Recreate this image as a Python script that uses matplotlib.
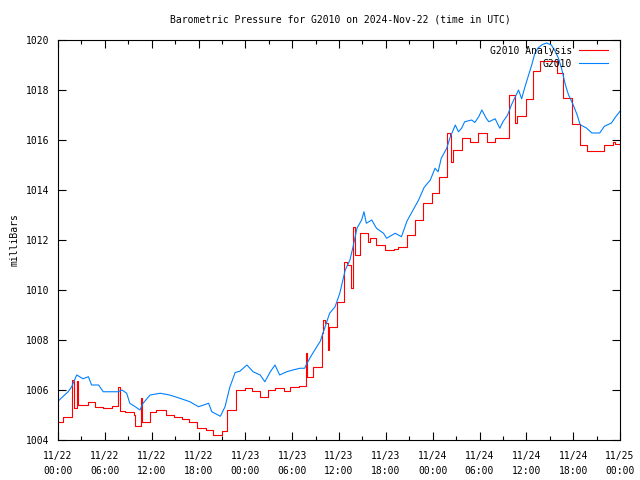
import numpy as np
import matplotlib
matplotlib.use('Agg')
import matplotlib.pyplot as plt
from matplotlib.ticker import MultipleLocator

# hours since 2024-11-22 00:00 UTC, pressure in mb
analysis_hours = [0.0, 0.68, 1.75, 2.1, 2.4, 2.6, 3.9, 4.7, 5.8, 6.9, 7.7, 7.95, 8.6, 9.8, 9.85,
                  10.6, 10.8, 11.8, 12.6, 13.8, 14.9, 15.9, 16.8, 17.8, 18.9, 19.9, 21.0, 21.7,
                  22.8, 24.0, 24.8, 25.9, 26.9, 27.8, 28.9, 29.7, 30.9, 31.8, 31.95, 32.7, 33.8,
                  34.0, 34.2, 34.6, 34.7, 35.7, 36.7, 37.0, 37.5, 37.75, 38.05, 38.7, 39.75, 40.0,
                  40.8, 41.9, 43.0, 43.6, 44.7, 45.7, 46.7, 47.9, 48.8, 49.8, 50.2, 50.4, 50.6,
                  51.8, 52.8, 53.8, 54.9, 56.0, 57.8, 58.6, 58.75, 59.9, 60.8, 61.8, 63.9, 64.7,
                  65.8, 66.9, 67.8, 70.0, 71.1, 71.4, 72.0]
analysis_mb = [1004.73, 1004.93, 1006.40, 1005.27, 1006.37, 1005.40, 1005.53, 1005.33, 1005.27,
               1005.35, 1006.13, 1005.17, 1005.13, 1005.00, 1004.56, 1005.67, 1004.73, 1005.13,
               1005.20, 1005.00, 1004.93, 1004.83, 1004.73, 1004.47, 1004.40, 1004.20, 1004.36,
               1005.20, 1006.00, 1006.09, 1005.97, 1005.71, 1006.00, 1006.07, 1005.97, 1006.11,
               1006.16, 1007.47, 1006.53, 1006.93, 1008.27, 1008.80, 1008.67, 1007.60, 1008.53,
               1009.53, 1011.13, 1011.00, 1010.07, 1012.53, 1011.40, 1012.27, 1011.93, 1012.07,
               1011.80, 1011.60, 1011.63, 1011.73, 1012.20, 1012.80, 1013.50, 1013.89, 1014.51,
               1016.27, 1016.20, 1015.13, 1015.60, 1016.07, 1015.93, 1016.27, 1015.93, 1016.07,
               1017.82, 1016.68, 1016.95, 1017.63, 1018.75, 1019.17, 1018.68, 1017.68, 1016.64,
               1015.81, 1015.55, 1015.79, 1015.92, 1015.84, 1015.84]

obs_hours = [0.0, 0.5, 1.3, 1.75, 2.4, 3.2, 3.9, 4.3, 5.2, 5.8, 7.7, 8.2, 8.8, 9.2, 9.9, 10.5,
             10.9, 11.8, 13.1, 14.3, 15.6, 16.9, 18.0, 19.3, 19.7, 20.8, 21.4, 22.0, 22.7, 23.3,
             24.2, 25.0, 25.9, 26.5, 27.2, 27.8, 28.4, 29.3, 30.1, 31.0, 31.6, 31.9, 32.5, 32.9,
             33.6, 34.8, 35.5, 36.1, 36.8, 37.4, 37.8, 38.3, 38.9, 39.2, 39.5, 40.2, 40.8, 41.7,
             42.1, 43.2, 44.0, 44.7, 45.4, 46.2, 46.9, 47.7, 48.3, 48.7, 49.1, 49.8, 50.2, 50.9,
             51.3, 51.7, 52.1, 53.0, 53.4, 53.9, 54.3, 54.9, 55.2, 56.0, 56.6, 57.0, 57.6, 58.1,
             59.0, 59.4, 59.8, 60.3, 60.7, 61.1, 61.5, 62.0, 62.6, 63.2, 63.7, 64.1, 64.5, 65.0,
             65.4, 66.0, 66.5, 66.9, 67.7, 68.4, 69.4, 70.0, 70.9, 71.5, 72.0]
obs_mb = [1005.55, 1005.70, 1005.93, 1006.13, 1006.60, 1006.45, 1006.53, 1006.20, 1006.20,
          1005.93, 1005.93, 1006.00, 1005.87, 1005.47, 1005.33, 1005.20, 1005.47, 1005.80,
          1005.87, 1005.80, 1005.67, 1005.53, 1005.33, 1005.47, 1005.13, 1004.95, 1005.33,
          1006.10, 1006.70, 1006.75, 1007.00, 1006.73, 1006.60, 1006.33, 1006.73, 1007.00,
          1006.60, 1006.73, 1006.80, 1006.87, 1006.87, 1007.07, 1007.40, 1007.60, 1007.95,
          1009.07, 1009.33, 1009.87, 1010.80, 1011.20, 1011.73, 1012.47, 1012.80, 1013.13,
          1012.67, 1012.80, 1012.47, 1012.27, 1012.07, 1012.27, 1012.13, 1012.75, 1013.15,
          1013.60, 1014.10, 1014.40, 1014.87, 1014.73, 1015.27, 1015.67, 1016.07, 1016.60,
          1016.33, 1016.47, 1016.73, 1016.80, 1016.70, 1016.93, 1017.20, 1016.85, 1016.73,
          1016.85, 1016.47, 1016.73, 1017.00, 1017.41, 1018.00, 1017.65, 1018.10, 1018.61,
          1019.01, 1019.48, 1019.68, 1019.81, 1019.88, 1019.80, 1019.55, 1019.28, 1018.88,
          1018.21, 1017.81, 1017.41, 1017.01, 1016.61, 1016.48, 1016.28, 1016.28, 1016.55,
          1016.68, 1016.95, 1017.15]

tick_hours = [0, 6, 12, 18, 24, 30, 36, 42, 48, 54, 60, 66, 72]
tick_labels = ['11/22\n00:00', '11/22\n06:00', '11/22\n12:00', '11/22\n18:00',
               '11/23\n00:00', '11/23\n06:00', '11/23\n12:00', '11/23\n18:00',
               '11/24\n00:00', '11/24\n06:00', '11/24\n12:00', '11/24\n18:00',
               '11/25\n00:00']

plt.rcParams['font.family'] = ['DejaVu Sans Mono']
fs = 7

fig = plt.figure(figsize=(6.4, 4.8), dpi=100)
ax = fig.add_axes([58/640, 40/480, 562/640, 400/480])

ax.plot(analysis_hours, analysis_mb, color='#ff0000', lw=0.8, drawstyle='steps-post',
        label='G2010 Analysis')
ax.plot(obs_hours, obs_mb, color='#0080ff', lw=0.8, label='G2010')

ax.set_xlim(0, 72)
ax.set_ylim(1004, 1020)
ax.set_xticks(tick_hours)
ax.set_xticklabels(tick_labels, fontsize=fs, linespacing=1.6)
ax.xaxis.set_minor_locator(MultipleLocator(3))
ax.set_yticks(np.arange(1004, 1021, 2))
ax.tick_params(axis='y', labelsize=fs)
ax.tick_params(axis='x', pad=8)
ax.tick_params(which='major', direction='in', length=6, width=0.8, top=True, right=True)
ax.tick_params(axis='y', which='major', pad=6)
ax.tick_params(which='minor', direction='in', length=3, width=0.8, top=True, right=True)
for s in ax.spines.values():
    s.set_linewidth(0.8)

ax.set_ylabel('milliBars', fontsize=fs)
ax.yaxis.set_label_coords(-38/562, 0.5)
fig.text(340/640, 1 - 20/480, 'Barometric Pressure for G2010 on 2024-Nov-22 (time in UTC)',
         ha='center', va='center', fontsize=fs)

ax.legend(loc='upper right', frameon=False, markerfirst=False, fontsize=fs,
          handlelength=3.0, borderaxespad=0.2, labelspacing=0.3, handletextpad=0.7,
          bbox_to_anchor=(1 - 6/562, 1))

fig.savefig('out.png', dpi=100)
